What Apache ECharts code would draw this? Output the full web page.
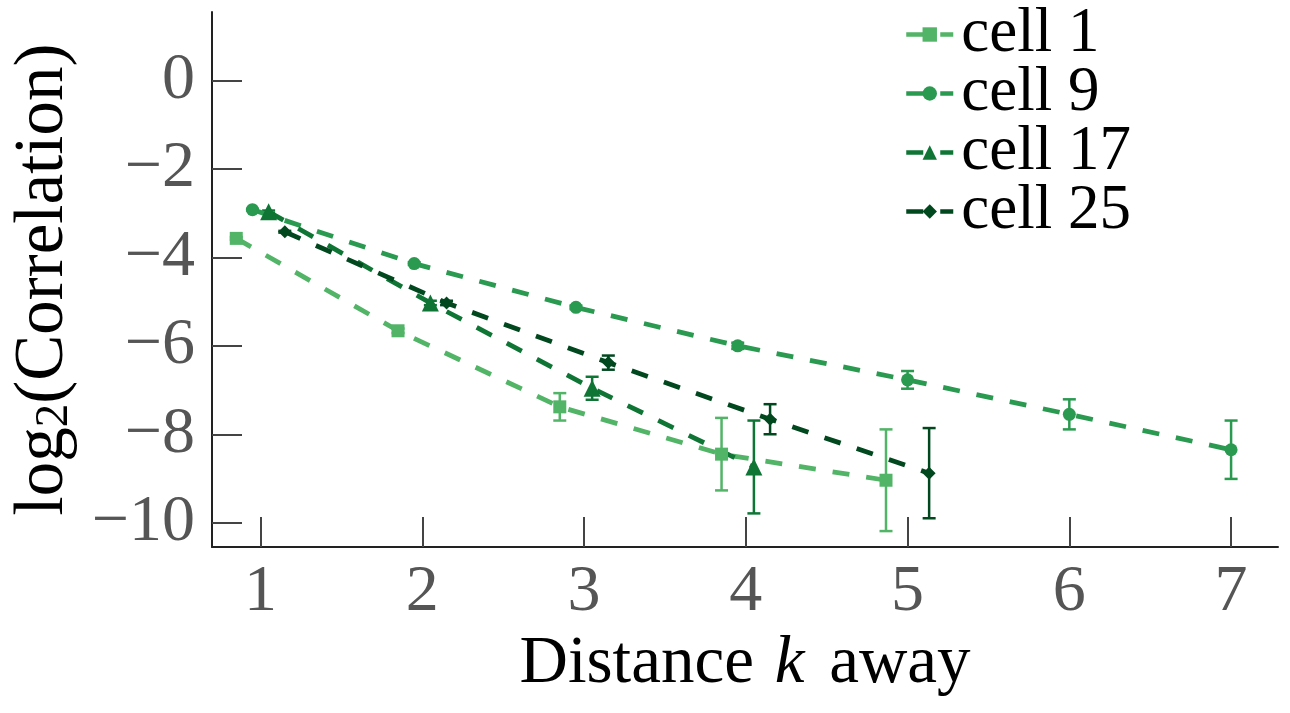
<!DOCTYPE html>
<html>
<head>
<meta charset="utf-8">
<script src="https://cdn.jsdelivr.net/npm/echarts@6/dist/echarts.min.js"></script>
<style>
  html, body { margin: 0; padding: 0; background: #fff; }
  #chart { width: 1290px; height: 713px; }
</style>
</head>
<body>
<div id="chart"></div>
<script>
// log2 correlation vs distance, mean +/- error per cell
const seriesNames = ['cell 1', 'cell 9', 'cell 17', 'cell 25'];

const kCell1 = [1, 2, 3, 4, 5];
const meanCell1 = [-3.57, -5.66, -7.38, -8.45, -9.04];
const errCell1 = [0.03, 0.05, 0.31, 0.82, 1.15];

const kCell9 = [1, 2, 3, 4, 5, 6, 7];
const meanCell9 = [-2.92, -4.14, -5.13, -6.00, -6.77, -7.55, -8.35];
const errCell9 = [0.02, 0.03, 0.04, 0.07, 0.20, 0.34, 0.66];

const kCell17 = [1, 2, 3, 4];
const meanCell17 = [-2.97, -5.03, -6.96, -8.74];
const errCell17 = [0.03, 0.05, 0.26, 1.05];

const kCell25 = [1, 2, 3, 4, 5];
const meanCell25 = [-3.42, -5.03, -6.38, -7.66, -8.88];
const errCell25 = [0.02, 0.05, 0.16, 0.34, 1.02];

const xTicks = [1, 2, 3, 4, 5, 6, 7];
const yTicks = [0, -2, -4, -6, -8, -10];

const groups = [
  { name: seriesNames[0], k: kCell1, mean: meanCell1, err: errCell1 },
  { name: seriesNames[1], k: kCell9, mean: meanCell9, err: errCell9 },
  { name: seriesNames[2], k: kCell17, mean: meanCell17, err: errCell17 },
  { name: seriesNames[3], k: kCell25, mean: meanCell25, err: errCell25 }
];

const looks = [
  { color: '#52b467', symbol: 'rect', size: 13 },
  { color: '#2a9a50', symbol: 'circle', size: 13 },
  { color: '#0e7535', symbol: 'triangle', size: 17 },
  { color: '#01481f', symbol: 'diamond', size: 13 }
];

const FONT = '"Liberation Serif", "DejaVu Serif", serif';

// dodge points sharing the same k
function dodge(gi, k) {
  const present = groups.map((g, i) => (g.k.indexOf(k) >= 0 ? i : -1)).filter(i => i >= 0);
  const n = present.length;
  const idx = present.indexOf(gi);
  return 0.4 * (idx + 0.5) / n - 0.2;
}

const series = [];
groups.forEach((g, gi) => {
  const look = looks[gi];
  series.push({
    name: g.name + ' err',
    type: 'custom',
    z: 2,
    silent: true,
    data: g.k.map((k, j) => [k + dodge(gi, k), g.mean[j] - g.err[j], g.mean[j] + g.err[j]]),
    encode: { x: 0, y: [1, 2] },
    renderItem: function (params, api) {
      const lo = api.coord([api.value(0), api.value(1)]);
      const hi = api.coord([api.value(0), api.value(2)]);
      const w = 6.5;
      const st = { stroke: look.color, lineWidth: 2.5 };
      return {
        type: 'group',
        children: [
          { type: 'line', shape: { x1: lo[0], y1: lo[1], x2: hi[0], y2: hi[1] }, style: st },
          { type: 'line', shape: { x1: lo[0] - w, y1: lo[1], x2: lo[0] + w, y2: lo[1] }, style: st },
          { type: 'line', shape: { x1: hi[0] - w, y1: hi[1], x2: hi[0] + w, y2: hi[1] }, style: st }
        ]
      };
    }
  });
  series.push({
    name: g.name,
    type: 'line',
    z: 3,
    data: g.k.map((k, j) => [k + dodge(gi, k), g.mean[j]]),
    symbol: look.symbol,
    symbolSize: look.size,
    showAllSymbol: true,
    itemStyle: { color: look.color },
    lineStyle: { color: look.color, width: 4.8, type: [17, 17] }
  });
});

const chart = echarts.init(document.getElementById('chart'));
const minus = v => (v < 0 ? '\u2212' + Math.abs(v) : String(v));

chart.setOption({
  animation: false,
  backgroundColor: '#fff',
  grid: { left: 212, right: 12, top: 12, bottom: 166, containLabel: false },
  legend: {
    data: seriesNames,
    orient: 'vertical',
    left: 899,
    top: -2,
    itemWidth: 47,
    itemHeight: 18,
    itemGap: -4,
    lineStyle: { width: 4.5 },
    textStyle: { fontFamily: FONT, fontSize: 63, color: '#000', lineHeight: 60, padding: [0, 0, 0, 3] }
  },
  xAxis: {
    type: 'value',
    min: 0.7,
    max: 7.29,
    name: '{a|Distance }{i|k}{a| away}',
    nameLocation: 'middle',
    nameGap: 78,
    nameTextStyle: {
      rich: {
        a: { fontFamily: FONT, fontSize: 67, color: '#000' },
        i: { fontFamily: FONT, fontSize: 67, color: '#000', fontStyle: 'italic', padding: [0, 8, 0, 4] }
      }
    },
    axisLine: { show: true, onZero: false, lineStyle: { color: '#222', width: 2 } },
    axisTick: { show: true, inside: true, length: 30, customValues: xTicks, lineStyle: { color: '#444', width: 2 } },
    axisLabel: { customValues: xTicks, fontFamily: FONT, fontSize: 66, color: '#555', margin: 13 },
    splitLine: { show: false }
  },
  yAxis: {
    type: 'value',
    min: -10.55,
    max: 1.55,
    name: '{a|log}{s|2}{a|(Correlation)}',
    nameLocation: 'middle',
    nameRotate: 90,
    nameGap: 134,
    nameTextStyle: {
      rich: {
        a: { fontFamily: FONT, fontSize: 69, color: '#000' },
        s: { fontFamily: FONT, fontSize: 47, color: '#000', lineHeight: 30, verticalAlign: 'bottom' }
      }
    },
    axisLine: { show: true, onZero: false, lineStyle: { color: '#222', width: 2 } },
    axisTick: { show: true, inside: true, length: 30, customValues: yTicks, lineStyle: { color: '#444', width: 2 } },
    axisLabel: { customValues: yTicks, fontFamily: FONT, fontSize: 66, color: '#555', margin: 17, formatter: minus },
    splitLine: { show: false }
  },
  series: series
});
</script>
</body>
</html>
